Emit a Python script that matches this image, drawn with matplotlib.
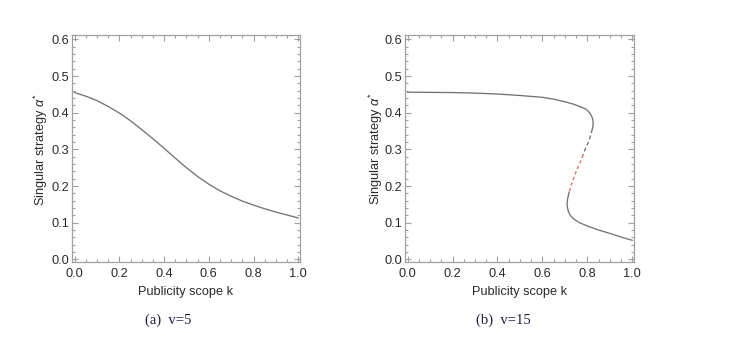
import matplotlib
matplotlib.use("Agg")
import matplotlib.pyplot as plt
from matplotlib.ticker import MultipleLocator

plt.rcParams['font.family'] = ['Liberation Sans', 'DejaVu Sans']
plt.rcParams['mathtext.fontset'] = 'custom'
plt.rcParams['mathtext.rm'] = 'Liberation Sans'
plt.rcParams['mathtext.it'] = 'Liberation Sans:italic'

# ---- data: panel (a) v=5 ----
k_a = [0.0, 0.05, 0.1, 0.15, 0.2, 0.25, 0.3, 0.35, 0.4, 0.45, 0.5,
       0.55, 0.6, 0.65, 0.7, 0.75, 0.8, 0.85, 0.9, 0.95, 1.0]
alpha_a = [0.455, 0.445, 0.433, 0.417, 0.399, 0.378, 0.354, 0.329, 0.303, 0.276, 0.250,
           0.226, 0.205, 0.187, 0.172, 0.159, 0.148, 0.138, 0.129, 0.121, 0.113]

# ---- data: panel (b) v=15 (S-shaped curve) ----
upper_k = [0.0, 0.1, 0.2, 0.3, 0.4, 0.5, 0.6, 0.65, 0.7, 0.74, 0.77, 0.796, 0.81, 0.82, 0.825, 0.826, 0.825, 0.822]
upper_alpha = [0.456, 0.4555, 0.455, 0.4535, 0.451, 0.447, 0.442, 0.437, 0.430, 0.423, 0.416, 0.409, 0.400, 0.390, 0.380, 0.370, 0.362, 0.355]

unst_gray_k = [0.822, 0.816, 0.808, 0.798, 0.787, 0.781]
unst_gray_alpha = [0.355, 0.340, 0.325, 0.310, 0.295, 0.285]

unst_red_k = [0.781, 0.772, 0.760, 0.748, 0.737, 0.727, 0.719]
unst_red_alpha = [0.285, 0.270, 0.253, 0.236, 0.218, 0.200, 0.183]

lower_k = [0.719, 0.714, 0.711, 0.710, 0.712, 0.716, 0.724, 0.740, 0.765, 0.805, 0.850, 0.905, 0.955, 1.0]
lower_alpha = [0.183, 0.170, 0.160, 0.150, 0.140, 0.130, 0.120, 0.110, 0.100, 0.090, 0.080, 0.070, 0.060, 0.052]

x_ticks = [0.0, 0.2, 0.4, 0.6, 0.8, 1.0]
y_ticks = [0.0, 0.1, 0.2, 0.3, 0.4, 0.5, 0.6]
xlabel = "Publicity scope k"
ylabel = r"Singular strategy $\alpha^{*}$"
captions = ["(a)  v=5", "(b)  v=15"]

W, H = 736, 337
fig = plt.figure(figsize=(W / 100, H / 100), dpi=100)

line_col = '#737373'
spine_col = '#a0a0a0'
text_col = '#2a2a2a'
fs = 9.2

def style(ax):
    ax.set_xlim(-0.012, 1.008)
    ax.set_ylim(-0.008, 0.612)
    ax.set_xticks(x_ticks)
    ax.set_yticks(y_ticks)
    ax.set_xticklabels([f"{v:.1f}" for v in x_ticks])
    ax.set_yticklabels([f"{v:.1f}" for v in y_ticks])
    ax.xaxis.set_minor_locator(MultipleLocator(0.05))
    ax.yaxis.set_minor_locator(MultipleLocator(0.02))
    ax.tick_params(which='both', direction='in', top=True, right=True,
                   color=spine_col, width=0.8)
    ax.tick_params(which='major', length=4)
    ax.tick_params(which='minor', length=2)
    ax.tick_params(axis='x', which='major', pad=4.0, labelsize=fs, labelcolor=text_col)
    ax.tick_params(axis='y', which='major', pad=2.0, labelsize=fs, labelcolor=text_col)
    for s in ax.spines.values():
        s.set_color(spine_col)
        s.set_linewidth(0.9)

axa = fig.add_axes([72 / W, 1 - 262.3 / H, 228 / W, 227.3 / H])
axb = fig.add_axes([405 / W, 1 - 262.3 / H, 229 / W, 227.3 / H])

axa.plot(k_a, alpha_a, color=line_col, lw=0.95)

axb.plot(upper_k, upper_alpha, color=line_col, lw=0.95)
axb.plot(unst_gray_k, unst_gray_alpha, color=line_col, lw=0.95, ls=(0, (3, 2)))
axb.plot(unst_red_k, unst_red_alpha, color='#ea6a60', lw=0.95, ls=(0, (2.5, 2)))
axb.plot(lower_k, lower_alpha, color=line_col, lw=0.95)

for ax in (axa, axb):
    style(ax)

# axis labels & captions
fig.text(41 / W, 1 - 150 / H, ylabel, rotation=90, ha='center', va='center',
         fontsize=fs, color=text_col)
fig.text(376 / W, 1 - 149 / H, ylabel, rotation=90, ha='center', va='center',
         fontsize=fs, color=text_col)
fig.text(186 / W, 1 - 292 / H, xlabel, ha='center', va='center', fontsize=fs, color=text_col)
fig.text(520 / W, 1 - 292 / H, xlabel, ha='center', va='center', fontsize=fs, color=text_col)
fig.text(168 / W, 1 - 320 / H, captions[0], ha='center', va='center', fontsize=10.5,
         family='Liberation Serif', color='#1e1e3c')
fig.text(503 / W, 1 - 320 / H, captions[1], ha='center', va='center', fontsize=10.5,
         family='Liberation Serif', color='#1e1e3c')

fig.savefig("out.png", dpi=100)
